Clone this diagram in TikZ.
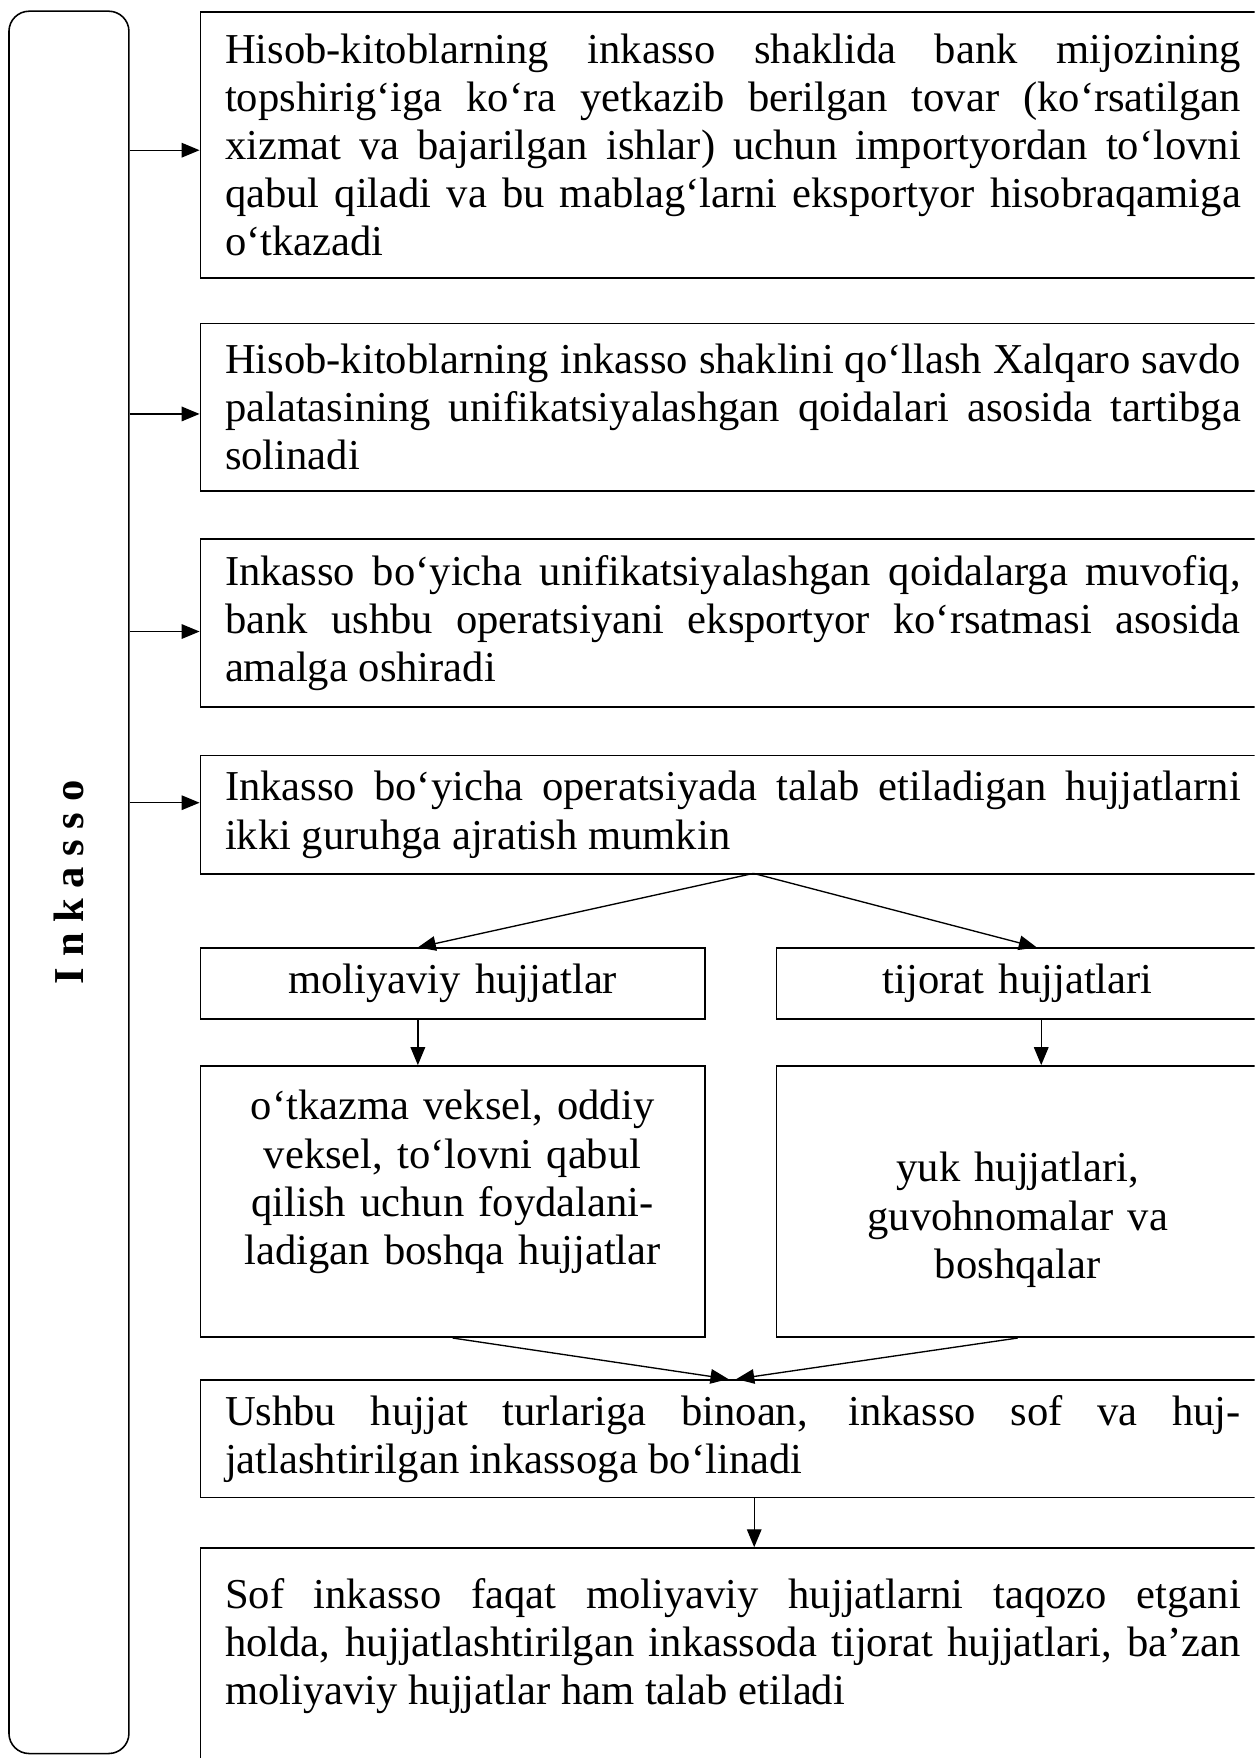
\documentclass[tikz,border=0pt]{standalone}
\usepackage{fontspec}
\setmainfont{Liberation Serif}
\usetikzlibrary{arrows.meta,calc}
\tolerance=9000
\hyphenpenalty=10000

\begin{document}
\begin{tikzpicture}[x=1pt, y=1pt,
  every node/.style={font=\fontsize{38}{43}\selectfont},
  plainbox/.style={draw, line width=1.4pt, rectangle, anchor=north west, inner xsep=22pt, inner ysep=0pt},
  textbox/.style={plainbox, text width=906pt, align=justify, minimum height=#1},
  leftbox/.style={plainbox, text width=406pt, align=center, minimum height=#1},
  rightbox/.style={plainbox, text width=386pt, align=center, minimum height=#1},
  link/.style={-{Triangle[length=16pt,width=13pt]}, line width=1.2pt}]
\clip (0,0) rectangle (1119,-1568);
\node[draw, line width=1.4pt, rounded corners=18pt, rotate=90, inner sep=0pt,
  minimum width=1554pt, minimum height=107pt,
  font=\fontsize{38}{43}\selectfont\bfseries] (inkasso) at (61.5,-787) {I n k a s s o};
\node[textbox=237pt] (b1) at (178,-10) {Hisob-kitoblarning inkasso shaklida bank mijozining\linebreak topshirig‘iga ko‘ra yetkazib berilgan tovar (ko‘rsatilgan\linebreak xizmat va bajarilgan ishlar) uchun importyordan to‘lovni\linebreak qabul qiladi va bu mablag‘larni eksportyor hisobraqamiga\linebreak o‘tkazadi};
\node[textbox=149pt] (b2) at (178,-288) {Hisob-kitoblarning inkasso shaklini qo‘llash Xalqaro savdo\linebreak palatasining unifikatsiyalashgan qoidalari asosida tartibga\linebreak solinadi};
\node[textbox=150pt] (b3) at (178,-480) {Inkasso bo‘yicha unifikatsiyalashgan qoidalarga muvofiq,\linebreak bank ushbu operatsiyani eksportyor ko‘rsatmasi asosida\linebreak amalga oshiradi};
\node[textbox=106pt] (b4) at (178,-673) {Inkasso bo‘yicha operatsiyada talab etiladigan hujjatlarni\linebreak ikki guruhga ajratish mumkin};
\node[leftbox=63pt] (b5) at (178,-845) {moliyaviy hujjatlar};
\node[rightbox=63pt] (b6) at (692,-845) {tijorat hujjatlari};
\node[leftbox=242pt] (b7) at (178,-950) {o‘tkazma veksel, oddiy\\ veksel, to‘lovni qabul\\ qilish uchun foydalani-\\ ladigan boshqa hujjatlar\\ \mbox{}};
\node[rightbox=242pt] (b8) at (692,-950) {\mbox{}\\[16pt] yuk hujjatlari,\\ guvohnomalar va\\ boshqalar};
\node[textbox=105pt] (b9) at (178,-1230) {Ushbu hujjat turlariga binoan, inkasso sof va huj-\linebreak jatlashtirilgan inkassoga bo‘linadi};
\node[textbox, inner ysep=27pt, text depth=230pt] (b10) at (178,-1380) {Sof inkasso faqat moliyaviy hujjatlarni taqozo etgani\linebreak holda, hujjatlashtirilgan inkassoda tijorat hujjatlari, ba’zan\linebreak moliyaviy hujjatlar ham talab etiladi};
% strelkalar
\coordinate (p1) at ($(b1.north west)!0.52!(b1.south west)$);
\coordinate (p2) at ($(b2.north west)!0.54!(b2.south west)$);
\coordinate (p3) at ($(b3.north west)!0.55!(b3.south west)$);
\coordinate (p4) at ($(b4.north west)!0.40!(b4.south west)$);
\draw[link] (inkasso.south |- p1) -- (p1);
\draw[link] (inkasso.south |- p2) -- (p2);
\draw[link] (inkasso.south |- p3) -- (p3);
\draw[link] (inkasso.south |- p4) -- (p4);
\coordinate (fork) at (672,-779);
\draw[link] (fork) -- ([xshift=-31pt]b5.north);
\draw[link] (fork) -- ([xshift=17pt]b6.north);
\draw[link] ([xshift=-31pt]b5.south) -- ([xshift=-31pt]b7.north);
\draw[link] ([xshift=21pt]b6.south) -- ([xshift=21pt]b8.north);
\draw[link] (b7.south) -- ([xshift=-4pt]b9.north);
\draw[link] (b8.south) -- ([xshift=3pt]b9.north);
\draw[link] ([xshift=19pt]b9.south) -- ([xshift=19pt]b10.north);
\end{tikzpicture}
\end{document}
